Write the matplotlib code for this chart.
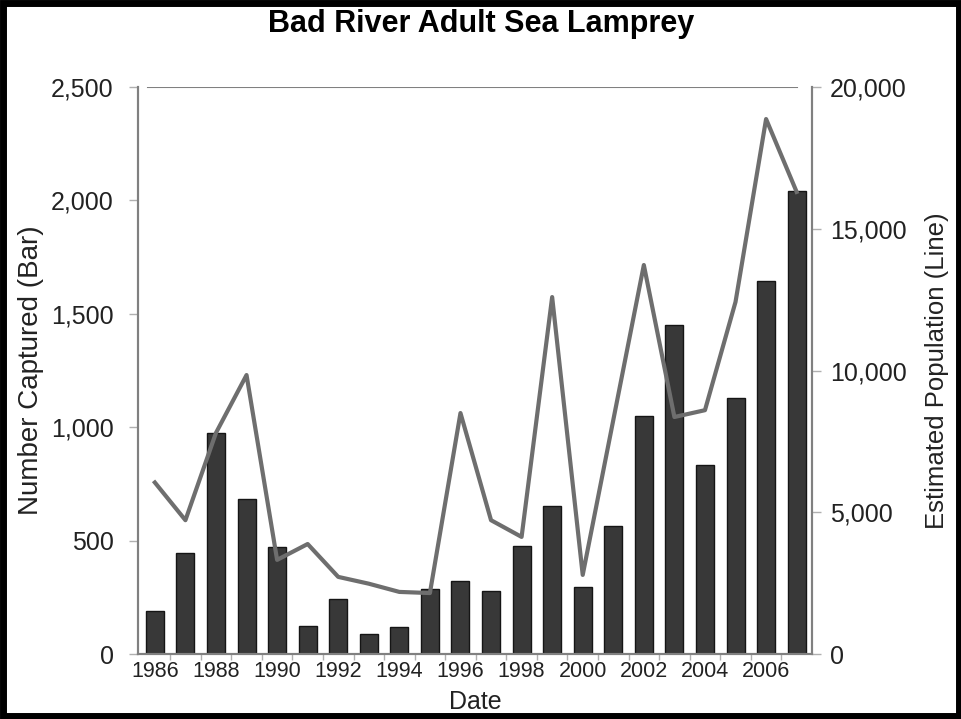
import matplotlib.pyplot as plt
from matplotlib.ticker import FuncFormatter
from matplotlib.patches import Rectangle

plt.rcParams['font.family'] = ['Liberation Sans', 'DejaVu Sans']

years = list(range(1986, 2008))
captured = [190, 445, 975, 685, 472, 123, 243, 88, 119, 287,
            322, 278, 476, 653, 295, 564, 1050, 1451, 833, 1129, 1643, 2042]
population = [6050, 4720, 7800, 9840, 3320, 3880, 2720, 2480, 2190, 2150,
              8500, 4720, 4130, 12590, 2790, 8250, 13720, 8360, 8600, 12420, 18870, 16300]

fig = plt.figure(figsize=(9.62, 7.19), dpi=100)
ax = fig.add_axes([0.1435, 0.0904, 0.7005, 0.7886])
ax2 = ax.twinx()

ax.bar(years, captured, width=0.59, color='#383838', edgecolor='#151515', linewidth=1, zorder=2)
ax2.plot(years, population, color='#6e6e6e', linewidth=3, zorder=3)

ax.set_xlim(1985.45, 2007.5)
ax.set_ylim(0, 2500)
ax2.set_ylim(0, 20000)
ax.set_yticks([0, 500, 1000, 1500, 2000, 2500])
ax2.set_yticks([0, 5000, 10000, 15000, 20000])
ax.set_xticks(range(1986, 2008, 2))
ax.set_xticks([y + 0.5 for y in years[:-1]], minor=True)

fmt = FuncFormatter(lambda v, p: f'{int(v):,}')
ax.yaxis.set_major_formatter(fmt)
ax2.yaxis.set_major_formatter(fmt)

for a in (ax, ax2):
    for s in a.spines.values():
        s.set_color('#808080')
        s.set_linewidth(1.5)
    a.spines['top'].set_visible(False)

ax.tick_params(axis='y', labelsize=18, color='#b0b0b0', length=6.5, width=1,
               pad=11, labelcolor='#222222')
ax2.tick_params(axis='y', labelsize=18, color='#b0b0b0', length=6.5, width=1,
                pad=6.5, labelcolor='#222222')
ax.tick_params(axis='x', which='major', labelsize=15.5, length=0, pad=5, labelcolor='#222222')
ax.tick_params(axis='x', which='minor', length=4, width=1, color='#b0b0b0')

# top reference line at 2,500
ax.axhline(2500, xmin=0.015, xmax=0.978, color='#808080', linewidth=1.5, zorder=1)

ax.set_ylabel('Number Captured (Bar)', fontsize=20, color='#222222', labelpad=5)
ax2.set_ylabel('Estimated Population (Line)', fontsize=18.5, color='#222222', labelpad=13)
ax.set_xlabel('Date', fontsize=18, color='#222222', labelpad=6)
fig.text(0.5, 0.966, 'Bad River Adult Sea Lamprey', ha='center', va='center',
         fontsize=22, fontweight='bold')

fig.patches.append(Rectangle((0.003, 0.004), 0.994, 0.992, transform=fig.transFigure,
                             fill=False, edgecolor='black', linewidth=5))

fig.savefig('out.png', dpi=100)
